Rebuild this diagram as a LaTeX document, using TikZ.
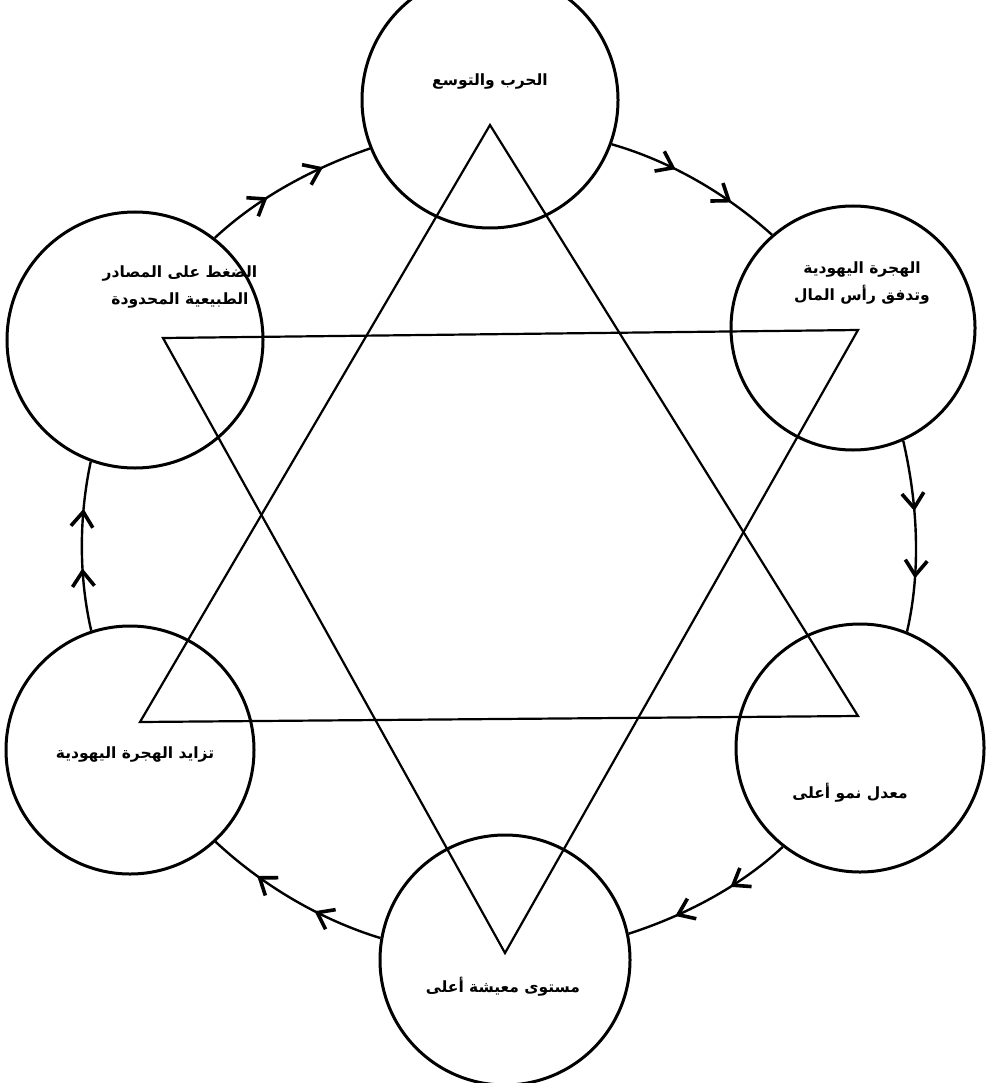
\documentclass[tikz,border=0pt]{standalone}
\usepackage{fontspec}
\usetikzlibrary{arrows.meta,decorations.markings}
\newfontfamily\arabicfont[Script=Arabic]{DejaVu Sans}
\TeXXeTstate=1
\begin{document}
\begin{tikzpicture}[x=1pt,y=-1pt,
  circ/.style={circle,draw,line width=3pt,inner sep=0pt},
  tri/.style={line width=2.2pt,line join=miter},
  lbl/.style={font=\arabicfont\bfseries\fontsize{15.5}{27}\selectfont,align=center,inner sep=0pt},
  flow/.style={line width=2.4pt,looseness=0.85,postaction={decorate},
    decoration={markings,
      mark=at position 0.37 with {\arrow{Straight Barb[length=15pt,width=22pt,line width=3.6pt]}},
      mark=at position 0.72 with {\arrow{Straight Barb[length=15pt,width=22pt,line width=3.6pt]}}}}
]
\useasboundingbox (0,0) rectangle (987,1083);
\clip (0,0) rectangle (987,1083);
\fill[white] (0,0) rectangle (987,1083);

% circles
\node[circ,minimum size=256pt] (t)  at (490,100) {};
\node[circ,minimum size=244pt] (ur) at (853,328) {};
\node[circ,minimum size=248pt] (lr) at (860,748) {};
\node[circ,minimum size=250pt] (b)  at (505,960) {};
\node[circ,minimum size=248pt] (ll) at (130,750) {};
\node[circ,minimum size=256pt] (ul) at (135,340) {};

% star of David
\draw[tri] (490,125) coordinate (ua) -- (140,722) coordinate (ul2) -- (858,716) coordinate (ur2) -- cycle;
\draw[tri] (163,338) coordinate (dl) -- (858,330) coordinate (dr) -- (505,953) coordinate (da) -- cycle;

% labels
\node[lbl] (tT)  at (490,82)  {\beginR الحرب والتوسع\endR};
\node[lbl] (tUR) at (862,283) {\beginR الهجرة اليهودية\endR\\\beginR وتدفق رأس المال\endR};
\node[lbl] (tLR) at (850,793) {\beginR معدل نمو أعلى\endR};
\node[lbl] (tB)  at (503,987) {\beginR مستوى معيشة أعلى\endR};
\node[lbl] (tLL) at (135,754) {\beginR تزايد الهجرة اليهودية\endR};
\node[lbl] (tUL) at (180,287) {\beginR الضغط على المصادر\endR\\\beginR الطبيعية المحدودة\endR};

% cycle connectors
\draw[flow] (t.-20) to[out=-16,in=138] (ur.131);
\draw[flow] (ur.-66) to[out=-77,in=77] (lr.68);
\draw[flow] (lr.-128) to[out=223,in=18] (b.12);
\draw[flow] (b.170) to[out=163,in=-43] (ll.-47);
\draw[flow] (ll.108) to[out=103,in=-102] (ul.-110);
\draw[flow] (ul.52) to[out=43,in=-161] (t.-158);
\end{tikzpicture}
\end{document}
